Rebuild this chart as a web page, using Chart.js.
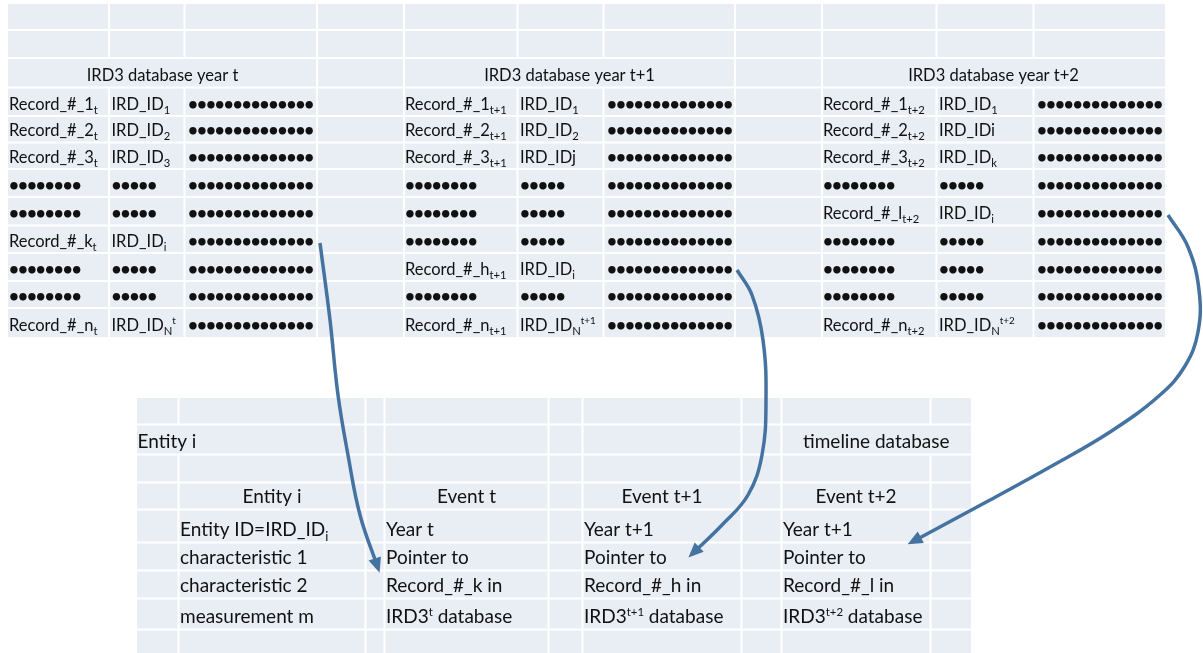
<!DOCTYPE html>
<html><head><meta charset="utf-8">
<script src="https://cdn.jsdelivr.net/npm/chart.js@4"></script>
<style>html,body{margin:0;padding:0;background:#fff}#wrap{width:1203px;height:653px}</style>
</head><body><div id="wrap"><canvas id="c" width="1203" height="653"></canvas></div>
<script>
// ---------- content (text) ----------
// markup: ~{..} subscript, ^{..} superscript
const blockTitles = ['IRD3 database year t', 'IRD3 database year t+1', 'IRD3 database year t+2'];
const recordLabels = [
  ['Record_#_1~{t}','Record_#_2~{t}','Record_#_3~{t}','••••••••','••••••••','Record_#_k~{t}','••••••••','••••••••','Record_#_n~{t}'],
  ['Record_#_1~{t+1}','Record_#_2~{t+1}','Record_#_3~{t+1}','••••••••','••••••••','••••••••','Record_#_h~{t+1}','••••••••','Record_#_n~{t+1}'],
  ['Record_#_1~{t+2}','Record_#_2~{t+2}','Record_#_3~{t+2}','••••••••','Record_#_l~{t+2}','••••••••','••••••••','••••••••','Record_#_n~{t+2}']
];
const idLabels = [
  ['IRD_ID~{1}','IRD_ID~{2}','IRD_ID~{3}','•••••','•••••','IRD_ID~{i}','•••••','•••••','IRD_ID~{N}^{t}'],
  ['IRD_ID~{1}','IRD_ID~{2}','IRD_IDj','•••••','•••••','•••••','IRD_ID~{i}','•••••','IRD_ID~{N}^{t+1}'],
  ['IRD_ID~{1}','IRD_IDi','IRD_ID~{k}','•••••','IRD_ID~{i}','•••••','•••••','•••••','IRD_ID~{N}^{t+2}']
];
const fieldDots = '••••••••••••••';
const bottomLeftTitle = 'Entity i';
const bottomRightTitle = 'timeline database';
const columnHeads = ['Entity i', 'Event t', 'Event t+1', 'Event t+2'];
const entityLines = ['Entity ID=IRD_ID~{i}', 'characteristic 1', 'characteristic 2', 'measurement m'];
const eventLines = [
  ['Year t', 'Pointer to', 'Record_#_k in', 'IRD3^{t} database'],
  ['Year t+1', 'Pointer to', 'Record_#_h in', 'IRD3^{t+1} database'],
  ['Year t+1', 'Pointer to', 'Record_#_l in', 'IRD3^{t+2} database']
];

// ---------- arrow paths (data units = pixels of the 1203x653 frame) ----------
const arrowK = [{x:320,y:243},{x:330,y:320},{x:338,y:395},{x:348,y:455},{x:360,y:515},{x:378,y:568}];
const arrowH = [{x:737,y:270},{x:752,y:295},{x:763,y:340},{x:766,y:400},{x:762,y:455},{x:748,y:495},{x:722,y:525},{x:692,y:554}];
const arrowL = [{x:1168,y:215},{x:1188,y:247},{x:1199,y:290},{x:1198,y:332},{x:1185,y:366},{x:1160,y:395},{x:1110,y:432},{x:1050,y:467},{x:990,y:500},{x:912,y:542}];

// ---------- layout ----------
const topCols = [8,109,184.5,317,404,517.5,603.5,735,822,936.5,1033.5,1165];
const topRows = [4,30,58,87.5,116,142.5,169,197,225.5,253,281,308,337];
const topMerges = [[2,0,2],[2,4,6],[2,8,10]];   // [row, fromCol, toCol]
const botCols = [137,178.5,365.5,384.5,548.5,582.5,741.5,781.5,930.5,971];
const botRows = [398,424.5,454.5,482.5,509.5,542.5,570.5,598.5,629.5,653];
const botMerges = [[1,0,1],[1,7,8]];

const FONT = 'Lato';
const FS_TOP = 16.5;
const FS_BOT = 19;
const CELL = '#E9EDF4';
const ARROW = '#4573A1';

function parseRich(s){
  const segs=[]; let i=0, buf='';
  while(i<s.length){
    if((s[i]==='~'||s[i]==='^') && s[i+1]==='{'){
      if(buf){segs.push({t:buf,m:0});buf='';}
      const end=s.indexOf('}',i);
      segs.push({t:s.slice(i+2,end),m:s[i]==='~'?1:2});
      i=end+1;
    } else {buf+=s[i];i++;}
  }
  if(buf) segs.push({t:buf,m:0});
  return segs;
}
function drawRich(ctx,str,x,y,align,fs){
  ctx.fillStyle='#111';
  ctx.textBaseline='alphabetic';
  ctx.textAlign='left';
  if(/^•+$/.test(str)){
    ctx.font='bold 17px '+FONT;
    const step=8.95;
    for(let k=0;k<str.length;k++) ctx.fillText('•', x+k*step, y);
    return;
  }
  const segs=parseRich(str);
  const f=m=> (m===0?fs:(m===1?fs*0.68:fs*0.6))+'px '+FONT;
  let w=0;
  segs.forEach(s=>{ctx.font=f(s.m); s.w=ctx.measureText(s.t).width; w+=s.w;});
  let cx = align==='center' ? x-w/2 : x;
  segs.forEach(s=>{
    ctx.font=f(s.m);
    const dy = s.m===1?fs*0.26:(s.m===2?-fs*0.38:0);
    ctx.fillText(s.t,cx,y+dy);
    cx+=s.w;
  });
}

function drawTable(ctx,X,Y,cols,rows,merges){
  const x0=X(cols[0]), x1=X(cols[cols.length-1]), y0=Y(rows[0]), y1=Y(rows[rows.length-1]);
  ctx.fillStyle=CELL;
  ctx.fillRect(x0,y0,x1-x0,y1-y0);
  ctx.strokeStyle='#fff';
  ctx.lineWidth=2;
  ctx.beginPath();
  for(let r=1;r<rows.length-1;r++){ ctx.moveTo(x0,Y(rows[r])); ctx.lineTo(x1,Y(rows[r])); }
  for(let c=1;c<cols.length-1;c++){
    for(let r=0;r<rows.length-1;r++){
      const merged = merges.some(m=>m[0]===r && c>m[1] && c<=m[2]);
      if(merged) continue;
      ctx.moveTo(X(cols[c]),Y(rows[r])); ctx.lineTo(X(cols[c]),Y(rows[r+1]));
    }
  }
  ctx.stroke();
}

const tablePlugin = {
  id:'tables',
  beforeDatasetsDraw(chart){
    const ctx=chart.ctx;
    const X=v=>chart.scales.x.getPixelForValue(v);
    const Y=v=>chart.scales.y.getPixelForValue(v);
    ctx.save();
    drawTable(ctx,X,Y,topCols,topRows,topMerges);
    drawTable(ctx,X,Y,botCols,botRows,botMerges);
    const tb = r => r - 6.5;
    const bb = r => r - 6.5;
    // top blocks
    for(let b=0;b<3;b++){
      const c0=b*4;
      drawRich(ctx,blockTitles[b],(X(topCols[c0])+X(topCols[c0+3]))/2,Y(tb(topRows[3])),'center',FS_TOP);
      for(let r=0;r<9;r++){
        const yb=Y(tb(topRows[r+4]));
        drawRich(ctx,recordLabels[b][r],X(topCols[c0])+1,yb,'left',FS_TOP);
        drawRich(ctx,idLabels[b][r],X(topCols[c0+1])+2.5,yb,'left',FS_TOP);
        drawRich(ctx,fieldDots,X(topCols[c0+2])+3.5,yb,'left',FS_TOP);
      }
    }
    // bottom table
    drawRich(ctx,bottomLeftTitle,X(botCols[0])+0.5,Y(bb(botRows[2])),'left',FS_BOT);
    drawRich(ctx,bottomRightTitle,(X(botCols[7])+X(botCols[9]))/2,Y(bb(botRows[2])),'center',FS_BOT);
    const headCols=[1,3,5,7];
    headCols.forEach((c,i)=>{
      drawRich(ctx,columnHeads[i],(X(botCols[c])+X(botCols[c+1]))/2,Y(bb(botRows[4])),'center',FS_BOT);
    });
    for(let r=0;r<4;r++){
      const yb=Y(bb(botRows[r+5]));
      drawRich(ctx,entityLines[r],X(botCols[1])+1.5,yb,'left',FS_BOT);
      for(let e=0;e<3;e++) drawRich(ctx,eventLines[e][r],X(botCols[3+2*e])+1.5,yb,'left',FS_BOT);
    }
    ctx.restore();
  },
  afterDatasetsDraw(chart){
    const ctx=chart.ctx;
    chart.data.datasets.forEach((ds,i)=>{
      const pts=chart.getDatasetMeta(i).data;
      const p=pts[pts.length-1];
      let px=p.cp1x, py=p.cp1y;
      if(px===undefined || (Math.abs(px-p.x)<0.5 && Math.abs(py-p.y)<0.5)){ px=pts[pts.length-2].x; py=pts[pts.length-2].y; }
      let dx=p.x-px, dy=p.y-py; const L=Math.hypot(dx,dy); dx/=L; dy/=L;
      const tipX=p.x+dx*5, tipY=p.y+dy*5;
      const len=15, hw=6.5;
      const bx=tipX-dx*len, by=tipY-dy*len;
      ctx.save();
      ctx.fillStyle=ARROW;
      ctx.beginPath();
      ctx.moveTo(tipX,tipY);
      ctx.lineTo(bx-dy*hw,by+dx*hw);
      ctx.lineTo(bx+dy*hw,by-dx*hw);
      ctx.closePath();
      ctx.fill();
      ctx.restore();
    });
  }
};

const arrowStyle = {showLine:true, borderColor:ARROW, borderWidth:3.5, pointRadius:0, pointHoverRadius:0, tension:0.4, fill:false, borderCapStyle:'butt'};

new Chart(document.getElementById('c'),{
  type:'scatter',
  data:{datasets:[
    Object.assign({label:'k',data:arrowK},arrowStyle),
    Object.assign({label:'h',data:arrowH},arrowStyle),
    Object.assign({label:'l',data:arrowL},arrowStyle)
  ]},
  options:{
    responsive:false, animation:false, devicePixelRatio:1,
    layout:{padding:0},
    plugins:{legend:{display:false},tooltip:{enabled:false},title:{display:false}},
    events:[],
    scales:{
      x:{type:'linear',min:0,max:1203,display:false},
      y:{type:'linear',min:0,max:653,reverse:true,display:false}
    }
  },
  plugins:[tablePlugin]
});
</script></body></html>
